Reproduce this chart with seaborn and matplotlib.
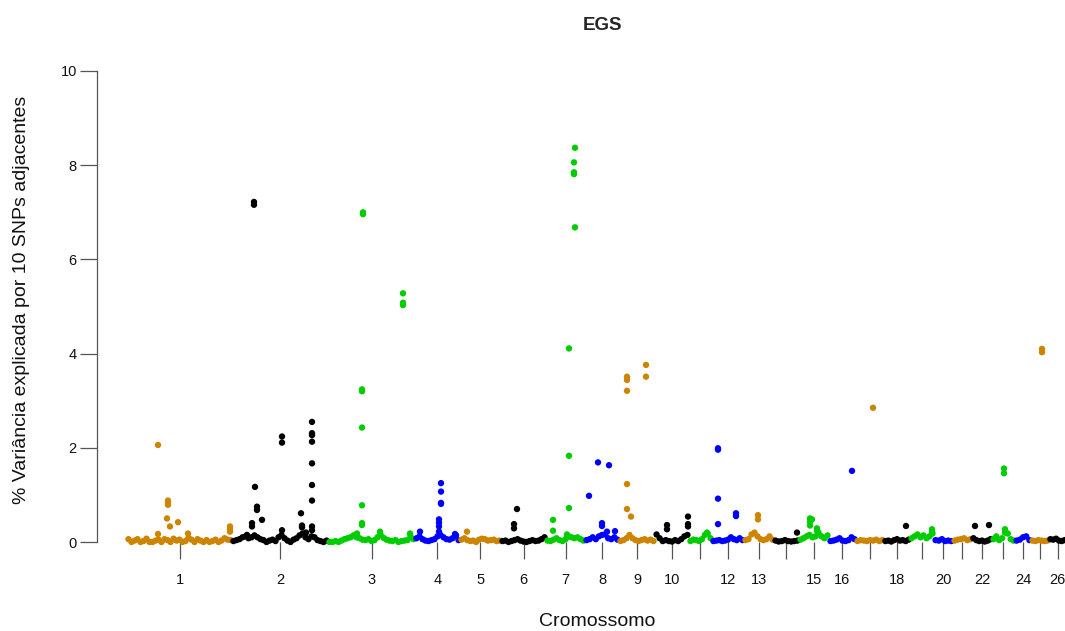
import numpy as np
import pandas as pd
import matplotlib
matplotlib.use("Agg")
import matplotlib.pyplot as plt
import seaborn as sns

# ---------------- data ----------------
CHROMS = list(range(1, 27))
CHR_LEN = [105, 96, 87, 45, 41, 45, 39, 34, 36, 34, 23, 32, 30, 25, 30,
           27, 28, 26, 24, 19, 19, 20, 23, 16, 18, 17]
TICK_LABELS = ["1", "2", "3", "4", "5", "6", "7", "8", "9", "10", "", "12", "13",
               "", "15", "16", "", "18", "", "20", "", "22", "", "24", "", "26"]
CHR_COLORS = ["#CD8500", "#000000", "#00CD00", "#0000FF"]

# near-zero background windows, evenly spaced along each chromosome
BG_VALUES = [
    [.06, 0, .03, .06, 0, .02, .07, 0, 0, .03, .05, 0, .06, .04, 0, .07, .03, .05, 0, .02,
     .09, .05, 0, .06, .03, 0, .04, 0, .02, .05, 0, .03, .08, .05, .04],
    [.02, .04, .06, .1, .12, .08, .1, .14, .1, .06, .04, 0, .03, .05, .02, .1, .15, .08, .03, 0,
     .05, .08, .14, .18, .1, .06, .12, .1, .04, .02, 0, .03],
    [0, 0, .02, 0, .03, .06, .08, .1, .14, .1, .08, .05, .04, .06, .02, .04, .1, .16, .09, .05,
     .03, .02, .04, 0, .02, .03, .04, .12, .06],
    [.08, .12, .06, .03, .02, .04, .06, .12, .15, .1, .06, .05, .08, .14, .04],
    [.05, .08, .04, .02, .03, 0, .05, .07, .06, .03, .04, .05, .02, .03],
    [.02, .03, 0, .02, .04, .06, .03, .01, 0, .02, .04, .02, .03, .06, .1],
    [.03, .02, .05, .08, .04, .02, .06, .12, .1, .08, .1, .06, .03],
    [.04, .06, .1, .06, .12, .15, .16, .08, .06, .1, .05],
    [.02, .04, .08, .15, .08, .04, .02, .04, .06, .03, .05, .02],
    [.16, .08, .02, .04, .02, .01, .04, .02, .06, .12, .15],
    [.02, .05, .04, .02, .06, .15, .18, .08],
    [.02, .03, .04, .02, .03, .05, .1, .06, .04, .08, .04],
    [.04, .06, .16, .2, .12, .06, .04, .06, .12, .05],
    [.03, .01, .02, .04, .02, .01, .02, .03],
    [.05, .08, .12, .15, .1, .12, .2, .12, .08, .14],
    [.02, .03, .05, .08, .03, .02, .04, .1, .06],
    [.02, .04, .03, .02, .04, .03, .05, .02, .04],
    [.02, .03, .01, .04, .06, .03, .04, .02, .05],
    [.08, .12, .16, .1, .14, .08, .12, .18],
    [.04, .03, .06, .02, .03, .02],
    [.03, .05, .06, .08, .04, .06],
    [.08, .04, .02, .03, .01, .03, .06],
    [.06, .12, .04, .08, .2, .18, .06, .03],
    [.03, .05, .1, .12, .04],
    [.03, .02, .04, .03, .02, .03],
    [.06, .05, .07, .03, .02, .04],
]

# windows standing out from the baseline: chromosome, position within chromosome, value
PK_CHR = [1, 1, 1, 1, 1, 1, 1, 1, 1, 1, 1, 1,
          2, 2, 2, 2, 2, 2, 2, 2, 2, 2, 2, 2, 2, 2, 2, 2, 2, 2, 2, 2, 2, 2, 2, 2, 2,
          3, 3, 3, 3, 3, 3, 3, 3, 3, 3, 3, 3, 3, 3,
          4, 4, 4, 4, 4, 4, 4, 4, 4, 4, 4,
          5, 6, 6, 6,
          7, 7, 7, 7, 7, 7, 7, 7, 7, 7, 7,
          8, 8, 8, 8, 8, 8, 8,
          9, 9, 9, 9, 9, 9, 9, 9,
          10, 10, 10, 10, 10, 11,
          12, 12, 12, 12, 12, 12, 13, 13, 14,
          15, 15, 15, 15, 15, 15, 16, 17, 18, 19, 19, 22, 22, 23, 23, 23, 25, 25]
PK_POS = [31, 31, 41, 41, 41, 40, 43, 51, 61, 103, 103, 103,
          22, 22, 23, 25, 25, 30, 20, 20, 50, 50, 50, 69, 70, 70, 80, 80, 80, 80, 80, 80, 80, 80, 80, 15, 74,
          35, 35, 75, 75, 75, 34, 34, 34, 34, 34, 34, 29, 52, 82,
          26, 26, 26, 26, 24, 24, 24, 24, 5, 40, 41,
          7, 16, 13, 13,
          29, 29, 28, 28, 28, 23, 23, 23, 7, 7, 21,
          13, 24, 4, 17, 17, 22, 30,
          8, 8, 8, 8, 8, 27, 27, 12,
          12, 12, 33, 33, 33, 18,
          6, 6, 6, 6, 24, 24, 14, 14, 23,
          11, 11, 11, 13, 18, 18, 23, 17, 22, 22, 22, 3, 17, 12, 12, 13, 11, 11]
PK_VAL = [2.06, .17, .88, .85, .79, .50, .33, .42, .18, .33, .27, .22,
          7.22, 7.16, 1.17, .75, .68, .47, .40, .33, 2.24, 2.11, .25, .61, .35, .31,
          2.55, 2.31, 2.27, 2.13, 1.67, 1.21, .88, .33, .25, .15, .2,
          7.0, 6.96, 5.28, 5.08, 5.03, 3.24, 3.20, 2.43, .78, .40, .36, .18, .22, .18,
          1.25, 1.07, .83, .81, .48, .41, .33, .22, .22, .17, .14,
          .22, .70, .38, .29,
          8.37, 6.68, 8.06, 7.85, 7.81, 4.11, 1.83, .72, .47, .24, .16,
          1.69, 1.63, .98, .40, .34, .22, .23,
          3.51, 3.44, 3.21, 1.23, .70, 3.76, 3.51, .54,
          .36, .27, .54, .38, .33, .2,
          1.99, 1.96, .92, .38, .61, .55, .57, .48, .20,
          .50, .43, .35, .48, .29, .24, 1.51, 2.85, .34, .27, .22, .34, .36, 1.56, 1.46, .27, 4.10, 4.03]

# ---------------- assemble ----------------
starts = np.concatenate([[0], np.cumsum(CHR_LEN)[:-1]])
rows = []
for i, c in enumerate(CHROMS):
    vals = BG_VALUES[i]
    n = len(vals)
    for k, v in enumerate(vals):
        rows.append((c, starts[i] + (k + 0.5) * CHR_LEN[i] / n, v))
    for pc, pp, pv in zip(PK_CHR, PK_POS, PK_VAL):
        if pc == c:
            rows.append((c, starts[i] + pp, pv))
df = pd.DataFrame(rows, columns=["chrom", "pos", "val"])
df["grp"] = ((df["chrom"] - 1) % 4).astype(str)
palette = {str(j): CHR_COLORS[j] for j in range(4)}
mids = starts + np.array(CHR_LEN) / 2.0

# ---------------- plot ----------------
sns.set_style("white")
plt.rcParams["font.family"] = ["Liberation Sans", "DejaVu Sans"]

W, H = 1065, 631
fig = plt.figure(figsize=(W / 100, H / 100), dpi=100)
ax_left, ax_right, ax_top, ax_bot = 97, 1109, 71, 542
ax = fig.add_axes([ax_left / W, (H - ax_bot) / H, (ax_right - ax_left) / W, (ax_bot - ax_top) / H])

sns.scatterplot(data=df, x="pos", y="val", hue="grp", palette=palette, s=21,
                linewidth=0, legend=False, ax=ax, clip_on=False, zorder=3)

ax.set_xlim(-30, 982)
ax.set_ylim(0, 10)
for sp in ["top", "right", "bottom"]:
    ax.spines[sp].set_visible(False)
ax.spines["left"].set_bounds(0, 10)
ax.spines["left"].set_color("#555555")
ax.spines["left"].set_linewidth(0.9)

ax.set_yticks([0, 2, 4, 6, 8, 10])
ax.set_yticklabels(["0", "2", "4", "6", "8", "10"])
ax.set_xticks(mids)
ax.set_xticklabels(TICK_LABELS)
ax.tick_params(axis="y", left=True, length=12, width=0.9, color="#555555", pad=2.5,
               labelsize=10.5, labelcolor="#111111")
ax.tick_params(axis="x", bottom=True, length=12, width=0.9, color="#555555", pad=10,
               labelsize=10.5, labelcolor="#111111")
ax.set_xlabel("")
ax.set_ylabel("")
ax.grid(False)

fig.text(603 / W, 1 - 25 / H, "EGS", ha="center", va="center", fontsize=13.5, fontweight="bold")
fig.text(597 / W, 1 - 622 / H, "Cromossomo", ha="center", va="center", fontsize=14, color="#111111")
fig.text(22 / W, 1 - 300 / H, "% Variância explicada por 10 SNPs adjacentes", ha="center", va="center",
         rotation=90, fontsize=14, color="#111111")

fig.savefig("out.png", dpi=100, facecolor="white")
